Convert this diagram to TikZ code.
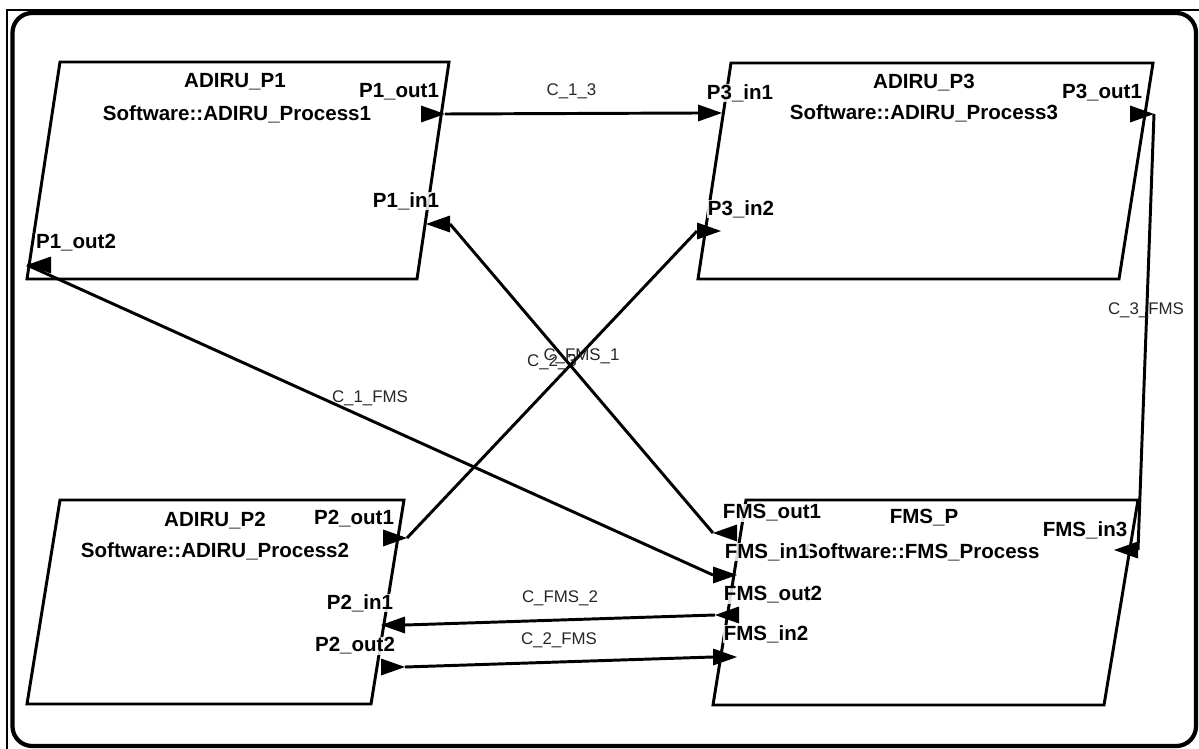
\documentclass[tikz,border=0pt]{standalone}
\usepackage{fontspec}
\setmainfont{Liberation Sans}

% 端口三角: 输入端口底边在坐标处, 输出端口尖端在坐标处
\newcommand{\inport}[2]{\fill[shift={(#1)}, xscale=#2] (0,-8.5) -- (24,0) -- (0,8.5) -- cycle;}
\newcommand{\outport}[2]{\fill[shift={(#1)}, xscale=#2] (0,0) -- (-24,-8.5) -- (-24,8.5) -- cycle;}

\begin{document}
\begin{tikzpicture}[x=0.025cm, y=-0.025cm,
    box/.style={line width=2.1pt, line join=miter},
    conn/.style={line width=2.1pt},
    title/.style={font=\fontsize{14.6}{17}\selectfont\bfseries, inner sep=0pt},
    port/.style={font=\fontsize{14.6}{17}\selectfont\bfseries, fill=white, fill opacity=0.85, text opacity=1, inner sep=0.5pt},
    clabel/.style={font=\fontsize{12}{14}\selectfont, text=black!85, midway, yshift=15.5pt}]
    \useasboundingbox (0,0) rectangle (1199,749);

    % 外框
    \draw[line width=0.8pt] (7,749) -- (7,10) -- (1199,10);
    \draw[line width=3pt, rounded corners=14pt] (12.5,13) rectangle (1196,746);

    % 进程框
    \draw[box] (60,62) -- (449,62) -- (417,279) -- (27,279) -- cycle;
    \draw[box] (731,63) -- (1153,63) -- (1119,279) -- (698,279) -- cycle;
    \draw[box] (60,500) -- (404,500) -- (371,704) -- (27,704) -- cycle;
    \draw[box] (746,500) -- (1138,500) -- (1104,705) -- (713,705) -- cycle;

    % 名称
    \node[title] (n1) at (235,82) {ADIRU\_P1};
    \node[title] (s1) at (237,114) {Software::ADIRU\_Process1};
    \node[title] (n3) at (924,83) {ADIRU\_P3};
    \node[title] (s3) at (924,113) {Software::ADIRU\_Process3};
    \node[title] (n2) at (215,521) {ADIRU\_P2};
    \node[title] (s2) at (215,551) {Software::ADIRU\_Process2};
    \node[title] (nf) at (924,518) {FMS\_P};
    \node[title] (sf) at (922,552) {Software::FMS\_Process};

    % 端口坐标
    \coordinate (p1out1) at (445,114);
    \coordinate (p1in1) at (450,224);
    \coordinate (p1out2) at (27,265);
    \coordinate (p3in1) at (698,113);
    \coordinate (p3in2) at (697,231);
    \coordinate (p3out1) at (1154,114);
    \coordinate (p2out1) at (407,538);
    \coordinate (p2in1) at (405,625);
    \coordinate (p2out2) at (405,667);
    \coordinate (fout1) at (713,533);
    \coordinate (fin1) at (713,575);
    \coordinate (fout2) at (715,615);
    \coordinate (fin2) at (713,657);
    \coordinate (fin3) at (1138,550);

    % 连线
    \draw[conn] (p1out1) -- node[clabel] (c13) {C\_1\_3} (p3in1);
    \draw[conn] (p2out1) -- node[clabel] (c23) {C\_2\_3} (p3in2);
    \draw[conn] (fout1) -- node[clabel] (cf1) {C\_FMS\_1} (p1in1);
    \draw[conn] (p1out2) -- node[clabel] (c1f) {C\_1\_FMS} (fin1);
    \draw[conn] (p3out1) -- node[clabel] (c3f) {C\_3\_FMS} (fin3);
    \draw[conn] (fout2) -- node[clabel] (cf2) {C\_FMS\_2} (p2in1);
    \draw[conn] (p2out2) -- node[clabel] (c2f) {C\_2\_FMS} (fin2);

    % 端口三角
    \outport{p1out1}{1}
    \inport{p1in1}{-1}
    \outport{p1out2}{-1}
    \inport{p3in1}{1}
    \inport{p3in2}{1}
    \outport{p3out1}{1}
    \outport{p2out1}{1}
    \inport{p2in1}{-1}
    \outport{p2out2}{1}
    \outport{fout1}{-1}
    \inport{fin1}{1}
    \outport{fout2}{-1}
    \inport{fin2}{1}
    \inport{fin3}{-1}

    % 端口名
    \node[port] (l1o1) at (399,92) {P1\_out1};
    \node[port] (l1i1) at (406,201) {P1\_in1};
    \node[port] (l1o2) at (76,243) {P1\_out2};
    \node[port] (l3i1) at (740,93) {P3\_in1};
    \node[port] (l3o1) at (1102,93) {P3\_out1};
    \node[port] (l3i2) at (741,209) {P3\_in2};
    \node[port] (l2o1) at (354,519) {P2\_out1};
    \node[port] (l2i1) at (360,603) {P2\_in1};
    \node[port] (l2o2) at (355,646) {P2\_out2};
    \node[port] (lfo1) at (772,513) {FMS\_out1};
    \node[port] (lfi1) at (767,552) {FMS\_in1};
    \node[port] (lfo2) at (773,595) {FMS\_out2};
    \node[port] (lfi2) at (766,634) {FMS\_in2};
    \node[port] (lfi3) at (1085,530) {FMS\_in3};
\end{tikzpicture}
\end{document}
